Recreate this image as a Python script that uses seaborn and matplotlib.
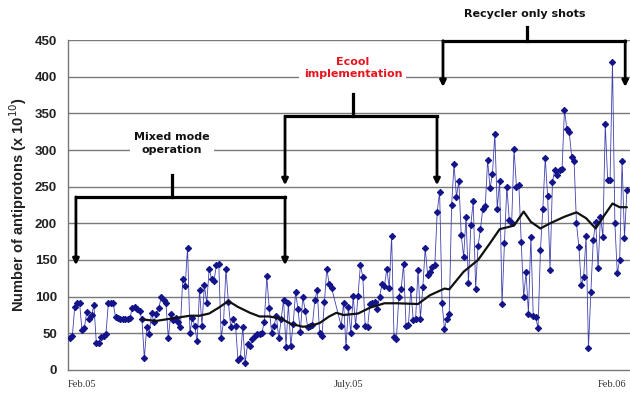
import numpy as np
import pandas as pd
import matplotlib
matplotlib.use("Agg")
import matplotlib.pyplot as plt
import seaborn as sns

# ---------------- data ----------------
antiprotons = [
    43, 46, 86, 91, 92, 55, 57, 79, 70, 75,
    88, 37, 37, 45, 46, 49, 91, 91, 91, 72,
    71, 70, 70, 70, 70, 71, 85, 86, 83, 80,
    69, 16, 58, 49, 78, 65, 77, 84, 99, 95,
    91, 43, 77, 68, 71, 65, 58, 124, 114, 167,
    51, 71, 60, 39, 109, 60, 116, 91, 138, 124,
    121, 143, 145, 44, 66, 138, 93, 58, 70, 60,
    14, 16, 59, 10, 35, 33, 42, 46, 49, 49,
    51, 66, 128, 85, 51, 60, 74, 43, 70,
    96, 32, 91, 33, 63, 106, 83, 52, 100, 81,
    59, 60, 61, 95, 109, 51, 47, 93, 138, 117, 112,
    60, 92, 31, 86, 50, 101, 60, 101, 143, 127,
    60, 59, 90, 92, 93, 83, 100, 117, 114, 138,
    112, 183, 45, 42, 100, 111, 145, 60, 62, 110,
    68, 70, 137, 70, 113, 166, 130, 134, 141, 143,
    216, 243, 92, 56,
    70, 77, 225, 281, 236, 258, 184, 154, 209, 118,
    198, 230, 111, 169, 192, 220, 223, 286, 248, 267,
    322, 220, 258, 90, 173, 250, 205, 200, 301, 250,
    252, 174, 100, 133, 77, 182, 73, 72, 57, 164,
    220, 289, 237, 137, 257, 273, 266, 273, 274, 355,
    328, 324, 291, 285, 200, 168, 116, 127, 183, 30,
    107, 177, 202, 139, 209, 182, 335, 259, 259, 420,
    200, 132, 150, 285, 180, 245,
]
# shot day index (short gap in operation after day 109)
shot_day = list(range(0, 110)) + list(range(113, 113 + len(antiprotons) - 110))

trend_day = [30, 36, 40, 46, 50, 54, 58, 62, 66, 70, 75, 79, 83, 88, 92, 97,
             100, 104, 108, 111, 114, 120, 125, 131, 136, 145, 150, 156, 158,
             164, 170, 175, 179, 185, 189, 192, 196, 200, 206, 211, 215, 219,
             222, 226, 229, 232]
trend_value = [69, 67, 69, 72, 74, 74, 77, 85, 94, 86, 78, 73, 73, 70, 63, 59,
               60, 64, 73, 78, 75, 77, 85, 91, 91, 90, 102, 111, 110,
               134, 150, 173, 192, 197, 216, 202, 193, 200, 209, 215, 207, 193,
               208, 227, 222, 222]

tick_days = [5, 28, 55, 84, 116, 145, 174, 200, 226]
tick_labels = ["Feb.05", "", "", "", "July.05", "", "", "", "Feb.06"]
y_ticks = list(range(0, 451, 50))

df = pd.DataFrame({"day": shot_day, "antiprotons": antiprotons})
trend = pd.DataFrame({"day": trend_day, "avg": trend_value})

# ---------------- figure ----------------
sns.set_style("white")
plt.rcParams["font.family"] = ["Liberation Sans", "DejaVu Sans"]

fig = plt.figure(figsize=(6.3, 3.94), dpi=100)
ax = fig.add_axes([68 / 630, 24 / 394, 562 / 630, 330 / 394])

for v in y_ticks[1:]:
    ax.axhline(v, color="#7a7a7a", lw=1.0, zorder=0)

sns.lineplot(data=df, x="day", y="antiprotons", ax=ax, color="#4040b0", lw=0.6,
             marker="D", markersize=3.2, markerfacecolor="#14148a",
             markeredgecolor="#14148a", sort=False, zorder=3)
sns.lineplot(data=trend, x="day", y="avg", ax=ax, color="#111111", lw=1.6,
             sort=False, zorder=4)

ax.set_xlim(-0.8, 233.3)
ax.set_ylim(0, 450)
ax.set_yticks(y_ticks)
ax.set_yticklabels([str(v) for v in y_ticks], fontsize=9.5, fontweight="bold",
                   color="#222222")
ax.set_xticks(tick_days)
ax.set_xticklabels(tick_labels, fontsize=7.5, family=["Liberation Serif"],
                   color="#333333")
ax.tick_params(axis="x", direction="out", length=3, width=1, color="#555555", pad=4)
ax.tick_params(axis="y", direction="out", length=3, width=1, color="#777777", pad=5)
ax.set_xlabel("")
ax.set_ylabel("Number of antiprotons (x 10$^{10}$)", fontsize=10.5,
              fontweight="bold", color="#222222", labelpad=4)
for s in ["top", "right"]:
    ax.spines[s].set_visible(False)
for s in ["left", "bottom"]:
    ax.spines[s].set_color("#777777")
    ax.spines[s].set_linewidth(1.0)


def bracket(x0, x1, xc, yh, ytip, ytop):
    kw = dict(color="black", lw=2.3, clip_on=False, zorder=6,
              solid_capstyle="projecting")
    ax.plot([x0, x1], [yh, yh], **kw)
    ax.plot([xc, xc], [yh, ytop], **kw)
    for x in (x0, x1):
        ax.annotate("", xy=(x, ytip), xytext=(x, yh),
                    arrowprops=dict(arrowstyle="-|>", lw=2.0, color="black",
                                    mutation_scale=9, shrinkA=0, shrinkB=0),
                    annotation_clip=False, zorder=6)


bracket(2.5, 89.6, 42.4, 236, 143, 266)
bracket(89.6, 152.9, 117.9, 346, 252, 376)
bracket(155.4, 231.3, 190.4, 449, 386, 468)

tkw = dict(ha="center", va="center", fontsize=8, fontweight="bold",
           family=["DejaVu Sans"], zorder=7)
ax.text(42.4, 309, "Mixed mode\noperation", color="#111111", linespacing=1.3,
        bbox=dict(facecolor="white", edgecolor="none", pad=3), **tkw)
ax.text(117.9, 412, "Ecool\nimplementation", color="#e8141e", linespacing=1.3,
        bbox=dict(facecolor="white", edgecolor="none", pad=3), **tkw)
ax.text(189.5, 485, "Recycler only shots", color="#111111", clip_on=False, **tkw)

fig.savefig("out.png", dpi=100, facecolor="white")
